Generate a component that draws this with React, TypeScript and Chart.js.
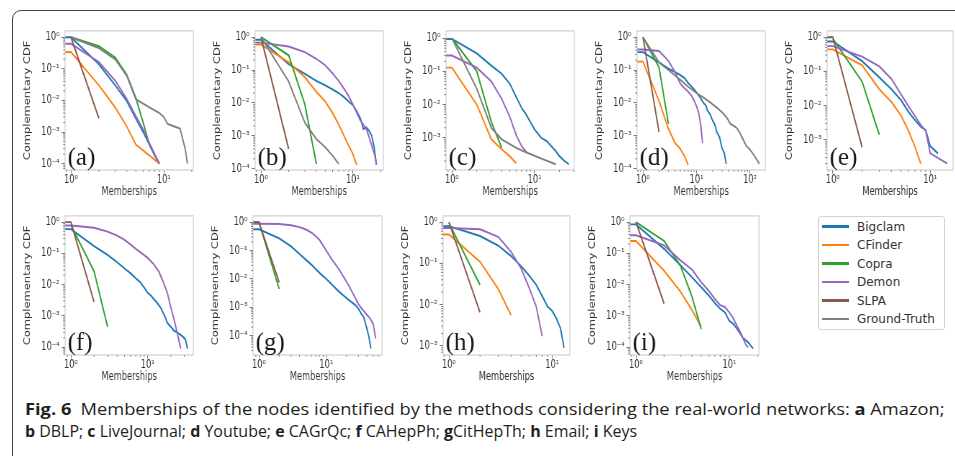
import { useEffect, useLayoutEffect, useRef } from 'react';
import { Chart, registerables } from 'chart.js';

Chart.register(...registerables);

type Pt = [number, number];

// ---------- labels ----------
const METHODS = ['Bigclam', 'CFinder', 'Copra', 'Demon', 'SLPA', 'Ground-Truth'];
const COLORS = ['#1f77b4', '#ff7f0e', '#2ca02c', '#9467bd', '#8c564b', '#7f7f7f'];
const X_TITLE = 'Memberships';
const Y_TITLE = 'Complementary CDF';
const PANEL_NAMES = ['(a)', '(b)', '(c)', '(d)', '(e)', '(f)', '(g)', '(h)', '(i)'];

// ---------- tick values ----------
const X_TICKS_2 = [1, 10];
const X_TICKS_3 = [1, 10, 100];
const Y_TICKS_5 = [1, 0.1, 0.01, 0.001, 0.0001];
const Y_TICKS_4 = [1, 0.1, 0.01, 0.001];

// ---------- data: [membership, CCDF] ----------
// (a) Amazon
const bigclamA: Pt[] = [[0.5, 1], [1, 1], [2, 0.14], [3, 0.03], [4, 0.0095], [5, 0.0027], [6, 0.001], [7, 0.0004], [8, 0.00018], [9, 0.0001]];
const cfinderA: Pt[] = [[0.5, 0.34], [1, 0.34], [2, 0.03], [3, 0.006], [4, 0.0015], [5, 0.0004], [9, 0.0001]];
const copraA: Pt[] = [[1, 1], [2, 0.52], [3, 0.23], [4, 0.065], [5, 0.012], [6, 0.002], [7, 0.0004]];
const demonA: Pt[] = [[0.5, 0.62], [1, 0.62], [2, 0.165], [3, 0.042], [4, 0.011], [5, 0.0032], [6, 0.0012], [7, 0.00045], [8, 0.0002], [9, 0.0001]];
const slpaA: Pt[] = [[1, 1], [2, 0.0027]];
const truthA: Pt[] = [[1, 1], [2, 0.45], [3, 0.2], [4, 0.06], [5, 0.011], [7, 0.006], [9, 0.004], [10, 0.003], [11, 0.0018], [13, 0.0015], [15, 0.0013], [16, 0.0006], [17, 0.0003], [18, 0.0001]];

// (b) DBLP
const bigclamB: Pt[] = [[0.5, 0.83], [1, 0.83], [2, 0.15], [3, 0.076], [4, 0.047], [5, 0.034], [6, 0.026], [7, 0.02], [8, 0.015], [9, 0.011], [10, 0.0085], [11, 0.0055], [12, 0.0035], [13, 0.0016], [14, 0.0018], [15, 0.0014], [16, 0.001], [17, 0.00045], [18, 0.00013]];
const cfinderB: Pt[] = [[0.5, 0.6], [1, 0.6], [2, 0.17], [3, 0.06], [4, 0.022], [5, 0.011], [6, 0.005], [7, 0.0022], [8, 0.001], [9, 0.0005], [10, 0.00028], [11, 0.00013]];
const copraB: Pt[] = [[1, 1], [2, 0.28], [3, 0.009], [4, 0.00014]];
const demonB: Pt[] = [[0.5, 0.68], [1, 0.68], [2, 0.52], [3, 0.35], [4, 0.22], [5, 0.14], [6, 0.08], [7, 0.047], [8, 0.027], [9, 0.016], [10, 0.009], [11, 0.005], [12, 0.003], [13, 0.0022], [14, 0.0016], [15, 0.0009], [16, 0.0005], [17, 0.0003], [18, 0.00015]];
const slpaB: Pt[] = [[1, 1], [2, 0.0004]];
const truthB: Pt[] = [[1, 1], [2, 0.045], [3, 0.0025], [4, 0.0008], [5, 0.00045], [6, 0.00025], [7, 0.00014]];

// (c) LiveJournal
const bigclamC: Pt[] = [[0.5, 0.95], [1, 0.95], [2, 0.35], [3, 0.15], [4, 0.085], [5, 0.043], [6, 0.017], [7, 0.0078], [8, 0.0048], [9, 0.0028], [10, 0.0018], [12, 0.001], [14, 0.0008], [16, 0.00056], [18, 0.0004], [20, 0.00028], [23, 0.0002], [26, 0.00016]];
const cfinderC: Pt[] = [[0.5, 0.13], [1, 0.13], [2, 0.01], [3, 0.0009], [4, 0.00045], [5, 0.00028], [6, 0.00017]];
const copraC: Pt[] = [[1, 1], [2, 0.1], [3, 0.003], [4, 0.0005]];
const demonC: Pt[] = [[0.5, 0.3], [1, 0.3], [2, 0.13], [3, 0.05], [4, 0.015], [5, 0.0044], [6, 0.0012], [7, 0.00055], [8, 0.00037]];
const truthC: Pt[] = [[1, 1], [2, 0.03], [3, 0.002], [4, 0.0009], [6, 0.0005], [8, 0.00036], [13, 0.00022], [18, 0.00016]];

// (d) Youtube
const bigclamD: Pt[] = [[0.5, 0.35], [1, 0.35], [2, 0.17], [3, 0.11], [4, 0.087], [5, 0.07], [6, 0.057], [7, 0.04], [8, 0.032], [9, 0.026], [10, 0.021], [11, 0.017], [12, 0.014], [13, 0.011], [14, 0.0095], [15, 0.0085], [16, 0.0059], [18, 0.0045], [20, 0.0029], [22, 0.0022], [24, 0.0013], [27, 0.0009], [30, 0.00042], [33, 0.0003], [36, 0.00014]];
const cfinderD: Pt[] = [[0.5, 0.18], [1, 0.18], [2, 0.0115], [3, 0.0016], [4, 0.0006], [5, 0.0004], [6, 0.00024], [7, 0.00013]];
const copraD: Pt[] = [[1, 1], [2, 0.12], [3, 0.0023]];
const demonD: Pt[] = [[0.5, 0.42], [1, 0.42], [2, 0.38], [3, 0.19], [4, 0.085], [5, 0.038], [6, 0.028], [7, 0.022], [8, 0.017], [9, 0.012], [10, 0.008], [11, 0.005], [12, 0.0022], [13, 0.0006]];
const slpaD: Pt[] = [[1, 1], [2, 0.0013]];
const truthD: Pt[] = [[1, 1], [2, 0.17], [3, 0.1], [5, 0.05], [7, 0.031], [10, 0.02], [14, 0.014], [18, 0.0104], [25, 0.0068], [32, 0.0047], [38, 0.0033], [43, 0.0023], [50, 0.002], [57, 0.0017], [65, 0.0012], [75, 0.00075], [85, 0.0005], [100, 0.00038], [120, 0.00025], [150, 0.00014]];

// (e) CAGrQc
const bigclamE: Pt[] = [[0.5, 0.75], [1, 0.75], [2, 0.2], [3, 0.067], [4, 0.03], [5, 0.0145], [6, 0.0065], [7, 0.0037], [8, 0.0024], [9, 0.0019], [10, 0.00065], [12, 0.0004]];
const cfinderE: Pt[] = [[0.5, 0.44], [1, 0.44], [2, 0.15], [3, 0.03], [4, 0.0127], [5, 0.0052], [6, 0.0018], [7, 0.0006], [8, 0.0002]];
const copraE: Pt[] = [[1, 0.9], [2, 0.05], [3, 0.0014]];
const demonE: Pt[] = [[0.5, 0.55], [1, 0.55], [2, 0.27], [3, 0.14], [4, 0.06], [5, 0.0215], [6, 0.0094], [7, 0.0048], [8, 0.0027], [9, 0.0018], [10, 0.0004], [15, 0.0002]];
const slpaE: Pt[] = [[0.5, 1], [1, 1], [2, 0.0006]];

// (f) CAHepPh
const bigclamF: Pt[] = [[0.5, 0.6], [1, 0.6], [2, 0.17], [3, 0.09], [4, 0.052], [5, 0.033], [6, 0.023], [7, 0.016], [8, 0.012], [9, 0.008], [10, 0.0055], [11, 0.0045], [12, 0.0035], [13, 0.0028], [14, 0.0022], [15, 0.0017], [17, 0.0009], [18, 0.0006], [20, 0.00045], [22, 0.00034], [25, 0.00028], [28, 0.00023], [31, 0.00018], [33, 0.00009]];
const copraF: Pt[] = [[1, 0.8], [2, 0.027], [3, 0.00045]];
const demonF: Pt[] = [[0.5, 0.78], [1, 0.78], [2, 0.66], [3, 0.5], [4, 0.37], [5, 0.27], [6, 0.19], [7, 0.14], [8, 0.11], [10, 0.072], [12, 0.045], [14, 0.026], [16, 0.012], [18, 0.0056], [20, 0.0019], [22, 0.0008], [24, 0.00032], [27, 0.00009]];
const slpaF: Pt[] = [[0.5, 1], [1, 1], [2, 0.0028]];

// (g) CitHepTh
const bigclamG: Pt[] = [[0.5, 0.56], [1, 0.56], [2, 0.27], [3, 0.14], [4, 0.075], [5, 0.047], [6, 0.032], [7, 0.022], [8, 0.016], [10, 0.01], [12, 0.0065], [15, 0.0038], [18, 0.0026], [21, 0.0019], [24, 0.0015], [27, 0.0012], [30, 0.0009], [33, 0.0006], [36, 0.00045], [38, 0.00028], [40, 0.00018], [43, 0.00009], [46, 0.000035]];
const copraG: Pt[] = [[0.5, 1], [1, 1], [2, 0.0045]];
const demonG: Pt[] = [[0.5, 0.88], [1, 0.88], [2, 0.86], [3, 0.78], [4, 0.67], [5, 0.55], [6, 0.43], [7, 0.32], [8, 0.23], [10, 0.1], [12, 0.05], [15, 0.024], [18, 0.012], [21, 0.0065], [25, 0.003], [30, 0.0013], [35, 0.0008], [40, 0.00055], [45, 0.0004], [50, 0.00025], [54, 0.00008]];
const slpaG: Pt[] = [[0.5, 1], [1, 1], [2, 0.0075]];

// (h) Email
const bigclamH: Pt[] = [[0.5, 0.8], [1, 0.8], [2, 0.46], [3, 0.27], [4, 0.15], [5, 0.085], [6, 0.05], [7, 0.03], [8, 0.016], [9, 0.009], [10, 0.007], [11, 0.0045], [12, 0.0027], [13, 0.0009]];
const cfinderH: Pt[] = [[0.5, 0.5], [1, 0.5], [2, 0.11], [3, 0.024], [4, 0.0055]];
const copraH: Pt[] = [[1, 0.95], [2, 0.03]];
const demonH: Pt[] = [[0.5, 0.72], [1, 0.72], [2, 0.67], [3, 0.44], [4, 0.19], [5, 0.075], [6, 0.025], [7, 0.009], [8, 0.0017]];
const slpaH: Pt[] = [[1, 1], [2, 0.0065]];

// (i) Keys
const bigclamI: Pt[] = [[0.5, 0.85], [1, 0.85], [2, 0.14], [3, 0.042], [4, 0.017], [5, 0.0082], [6, 0.0046], [7, 0.0026], [8, 0.0017], [9, 0.0013], [10, 0.0007], [11, 0.00056], [12, 0.0004], [14, 0.0002], [16, 0.00014], [18, 0.00009]];
const cfinderI: Pt[] = [[0.5, 0.25], [1, 0.25], [2, 0.028], [3, 0.006], [4, 0.0015], [5, 0.00045]];
const copraI: Pt[] = [[1, 1], [2, 0.25], [3, 0.04], [4, 0.004], [5, 0.00038]];
const demonI: Pt[] = [[0.5, 0.38], [1, 0.38], [2, 0.18], [3, 0.06], [4, 0.03], [5, 0.012], [6, 0.0065], [7, 0.0035], [8, 0.0022], [9, 0.0019], [10, 0.0013], [11, 0.00085], [12, 0.0005], [13, 0.00032], [14, 0.0002], [15, 0.00012], [16, 0.0001]];
const slpaI: Pt[] = [[1, 1], [2, 0.0025]];

// ---------- layout ----------
const K = 0.72; // horizontal squeeze of the original figure
const YW = 64; // internal width of y axis area
const PT = 8;
const PR = 8;
const XH = 30;
const CH = 141;
const FAMILY = '"DejaVu Sans", sans-serif';

interface PanelDef {
  name: string;
  left: number;
  top: number;
  width: number;
  xLog: [number, number];
  yLog: [number, number];
  xTicks: number[];
  yTicks: number[];
  series: (Pt[] | null)[];
}

const PANELS: PanelDef[] = [
  { name: PANEL_NAMES[0], left: 65, top: 29, width: 128, xLog: [-0.063, 1.318], yLog: [-4.2, 0.2], xTicks: X_TICKS_2, yTicks: Y_TICKS_5, series: [bigclamA, cfinderA, copraA, demonA, slpaA, truthA] },
  { name: PANEL_NAMES[1], left: 255, top: 29, width: 128, xLog: [-0.064, 1.33], yLog: [-4.04, 0.19], xTicks: X_TICKS_2, yTicks: Y_TICKS_5, series: [bigclamB, cfinderB, copraB, demonB, slpaB, truthB] },
  { name: PANEL_NAMES[2], left: 446, top: 29, width: 128, xLog: [-0.07, 1.48], yLog: [-3.97, 0.22], xTicks: X_TICKS_2, yTicks: Y_TICKS_4, series: [bigclamC, cfinderC, copraC, demonC, null, truthC] },
  { name: PANEL_NAMES[3], left: 637, top: 29, width: 128, xLog: [-0.109, 2.285], yLog: [-4.04, 0.19], xTicks: X_TICKS_3, yTicks: Y_TICKS_5, series: [bigclamD, cfinderD, copraD, demonD, slpaD, truthD] },
  { name: PANEL_NAMES[4], left: 827, top: 29, width: 126, xLog: [-0.059, 1.235], yLog: [-3.885, 0.185], xTicks: X_TICKS_2, yTicks: Y_TICKS_4, series: [bigclamE, cfinderE, copraE, demonE, slpaE, null] },
  { name: PANEL_NAMES[5], left: 65, top: 214, width: 128, xLog: [-0.076, 1.594], yLog: [-4.25, 0.2], xTicks: X_TICKS_2, yTicks: Y_TICKS_5, series: [bigclamF, null, copraF, demonF, slpaF, null] },
  { name: PANEL_NAMES[6], left: 253, top: 214, width: 129, xLog: [-0.087, 1.827], yLog: [-4.68, 0.22], xTicks: X_TICKS_2, yTicks: Y_TICKS_5, series: [bigclamG, null, copraG, demonG, slpaG, null] },
  { name: PANEL_NAMES[7], left: 443, top: 214, width: 127, xLog: [-0.056, 1.17], yLog: [-3.2, 0.15], xTicks: X_TICKS_2, yTicks: Y_TICKS_4, series: [bigclamH, cfinderH, copraH, demonH, slpaH, null] },
  { name: PANEL_NAMES[8], left: 630, top: 214, width: 129, xLog: [-0.063, 1.318], yLog: [-4.25, 0.2], xTicks: X_TICKS_2, yTicks: Y_TICKS_5, series: [bigclamI, cfinderI, copraI, demonI, slpaI, null] },
];

const SUP: Record<string, string> = { '-': '\u207B', '0': '\u2070', '1': '\u00B9', '2': '\u00B2', '3': '\u00B3', '4': '\u2074', '5': '\u2075' };
function powLabel(v: number): string {
  const e = Math.round(Math.log10(v));
  return '10' + String(e).split('').map((c) => SUP[c] || c).join('');
}

function Panel({ p }: { p: PanelDef }) {
  const ref = useRef<HTMLCanvasElement | null>(null);
  const cw = Math.round(p.width / K);
  const W = YW + cw + PR;
  const H = PT + CH + XH;

  useEffect(() => {
    const canvas = ref.current;
    if (!canvas) return;
    const decor = {
      id: 'decor',
      afterDraw(chart: any) {
        const { ctx, chartArea: a, scales } = chart;
        const xs = scales.x;
        const ys = scales.y;
        ctx.save();
        ctx.strokeStyle = '#c6c6c6';
        ctx.lineWidth = 1;
        ctx.strokeRect(a.left, a.top, a.right - a.left, a.bottom - a.top);
        ctx.strokeStyle = '#666';
        ctx.lineWidth = 0.8;
        ctx.beginPath();
        for (let d = Math.floor(p.xLog[0]); d <= Math.ceil(p.xLog[1]); d++) {
          for (let m = 2; m <= 9; m++) {
            const v = m * Math.pow(10, d);
            const lv = Math.log10(v);
            if (lv < p.xLog[0] || lv > p.xLog[1]) continue;
            const px = xs.getPixelForValue(v);
            ctx.moveTo(px, a.bottom);
            ctx.lineTo(px, a.bottom + 2);
          }
        }
        for (let d = Math.floor(p.yLog[0]); d <= Math.ceil(p.yLog[1]); d++) {
          for (let m = 2; m <= 9; m++) {
            const v = m * Math.pow(10, d);
            const lv = Math.log10(v);
            if (lv < p.yLog[0] || lv > p.yLog[1]) continue;
            const py = ys.getPixelForValue(v);
            ctx.moveTo(a.left, py);
            ctx.lineTo(a.left - 2 / K, py);
          }
        }
        ctx.stroke();
        ctx.fillStyle = '#1a1a1a';
        ctx.font = '25px "Liberation Serif", "DejaVu Serif", serif';
        ctx.textAlign = 'left';
        ctx.textBaseline = 'alphabetic';
        ctx.translate(a.left + 2.5 / K, a.bottom - 5);
        ctx.scale(1 / K, 1);
        ctx.fillText(p.name, 0, 0);
        ctx.restore();
      },
    };

    const datasets: any[] = [];
    p.series.forEach((s, i) => {
      if (!s) return;
      datasets.push({
        label: METHODS[i],
        data: s.map(([x, y]) => ({ x, y })),
        borderColor: COLORS[i],
        backgroundColor: COLORS[i],
        borderWidth: 1.9,
        pointRadius: 0,
        tension: 0,
        fill: false,
        clip: 0,
        order: 5 - i,
      });
    });

    const tickFont = { size: 11.5, family: FAMILY };
    const titleFont = { size: 11.5, family: FAMILY };

    const chart = new Chart(canvas, {
      type: 'line',
      data: { datasets },
      options: {
        animation: false,
        responsive: false,
        events: [],
        layout: { padding: { top: PT, right: PR, left: 0, bottom: 0 } },
        plugins: { legend: { display: false }, tooltip: { enabled: false } },
        scales: {
          x: {
            type: 'logarithmic',
            min: Math.pow(10, p.xLog[0]),
            max: Math.pow(10, p.xLog[1]),
            afterBuildTicks: (s: any) => {
              s.ticks = p.xTicks.map((v) => ({ value: v }));
            },
            afterFit: (s: any) => {
              s.height = XH;
            },
            grid: { drawOnChartArea: false, drawTicks: true, tickLength: 3.5, color: '#555', lineWidth: 0.8 },
            border: { display: false },
            ticks: { autoSkip: false, maxRotation: 0, padding: 0, color: '#333', font: tickFont, callback: (v: any) => powLabel(Number(v)) },
            title: { display: true, text: X_TITLE, color: '#333', font: titleFont, padding: { top: 0, bottom: 0.6 } },
          },
          y: {
            type: 'logarithmic',
            min: Math.pow(10, p.yLog[0]),
            max: Math.pow(10, p.yLog[1]),
            afterBuildTicks: (s: any) => {
              s.ticks = p.yTicks.map((v) => ({ value: v }));
            },
            afterFit: (s: any) => {
              s.width = YW;
            },
            grid: { drawOnChartArea: false, drawTicks: true, tickLength: 3.5 / K, color: '#555', lineWidth: 0.8 },
            border: { display: false },
            ticks: { autoSkip: false, padding: 3, color: '#333', font: tickFont, callback: (v: any) => powLabel(Number(v)) },
            title: { display: true, text: Y_TITLE, color: '#333', font: titleFont, padding: { top: 5.1, bottom: 0 } },
          },
        },
      } as any,
      plugins: [decor],
    });
    return () => chart.destroy();
  }, [p]);

  return (
    <div
      style={{
        position: 'absolute',
        left: p.left - YW * K,
        top: p.top - PT,
        width: W,
        height: H,
        transform: `scaleX(${K})`,
        transformOrigin: '0 0',
      }}
    >
      <canvas ref={ref} width={W} height={H} style={{ width: W, height: H, display: 'block' }} />
    </div>
  );
}

function Legend() {
  return (
    <div
      style={{
        position: 'absolute',
        left: 818,
        top: 216,
        width: 127,
        height: 114,
        boxSizing: 'border-box',
        border: '1px solid #d4d4d4',
        borderRadius: 3,
        background: '#fff',
      }}
    >
      {METHODS.map((m, i) => {
        const cy = 9.5 + 18.5 * i;
        return (
          <div key={m}>
            <div style={{ position: 'absolute', left: 3, top: cy - 1.4, width: 27, height: 2.8, background: COLORS[i] }} />
            <div
              style={{
                position: 'absolute',
                left: 38,
                top: cy - 7,
                height: 14,
                lineHeight: '14px',
                fontSize: 12,
                fontFamily: FAMILY,
                color: '#333',
                whiteSpace: 'nowrap',
              }}
            >
              {m}
            </div>
          </div>
        );
      })}
    </div>
  );
}

function Caption() {
  const l1 = useRef<HTMLDivElement | null>(null);
  const l2 = useRef<HTMLDivElement | null>(null);
  useLayoutEffect(() => {
    const fit = () => {
      const items: [HTMLDivElement | null, number][] = [
        [l1.current, 920],
        [l2.current, 612],
      ];
      items.forEach(([el, target]) => {
        if (!el) return;
        el.style.transform = 'none';
        const w = el.offsetWidth;
        if (w > 0) el.style.transform = `scaleX(${target / w})`;
      });
    };
    fit();
    const f = (document as any).fonts;
    if (f && f.ready) f.ready.then(fit);
  }, []);
  const base: any = {
    position: 'absolute',
    left: 25,
    height: 19,
    lineHeight: '19px',
    fontSize: 16,
    fontFamily: '"Open Sans", "Noto Sans", sans-serif',
    color: '#231f20',
    whiteSpace: 'nowrap',
    transformOrigin: '0 0',
  };
  return (
    <>
      <div ref={l1} style={{ ...base, top: 400 }}>
        <b>Fig. 6</b>&ensp;Memberships of the nodes identified by the methods considering the real-world networks: <b>a</b> Amazon;
      </div>
      <div ref={l2} style={{ ...base, top: 422 }}>
        <b>b</b> DBLP; <b>c</b> LiveJournal; <b>d</b> Youtube; <b>e</b> CAGrQc; <b>f</b> CAHepPh; <b>g</b>CitHepTh; <b>h</b> Email; <b>i</b> Keys
      </div>
    </>
  );
}

export default function App() {
  return (
    <div style={{ position: 'absolute', left: 0, top: 0, width: 955, height: 456, overflow: 'hidden', background: '#fff' }}>
      <div
        style={{
          position: 'absolute',
          left: 12,
          top: 10,
          width: 990,
          height: 490,
          border: '1px solid #444',
          borderRadius: 9,
        }}
      />
      {PANELS.map((p) => (
        <Panel key={p.name} p={p} />
      ))}
      <Legend />
      <Caption />
    </div>
  );
}
